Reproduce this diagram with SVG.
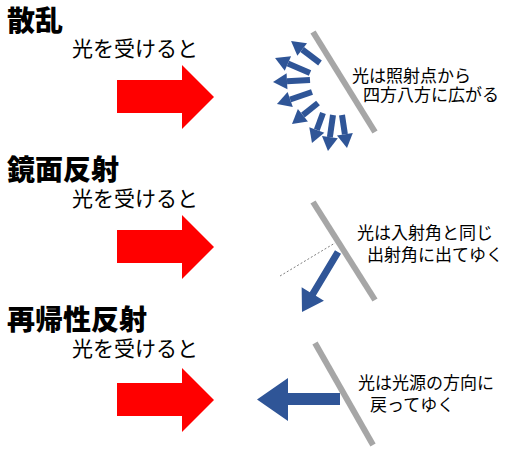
<svg xmlns="http://www.w3.org/2000/svg" width="506" height="451" viewBox="0 0 506 451">
<style>
.title{font-family:"Noto Sans CJK JP","Noto Sans CJK SC",sans-serif;font-weight:900;font-size:28px;fill:#000}
.sub{font-family:"Noto Sans CJK JP","Noto Sans CJK SC",sans-serif;font-size:21px;fill:#000}
.note{font-family:"Noto Sans CJK JP","Noto Sans CJK SC",sans-serif;font-size:17px;fill:#000}
.red{fill:#FF0000}
.mirror{stroke:#A6A6A6;stroke-width:6;fill:none}
.blue{fill:#2F5597}
.ray{stroke:#2F5597;stroke-width:6;fill:none}
</style>
<defs>
<path id="bigarrow" d="M117,80 L182,80 L182,65 L214,97 L182,129 L182,113 L117,113 Z"/>
<marker id="head" markerUnits="userSpaceOnUse" markerWidth="16" markerHeight="18" refX="0" refY="8" orient="auto" overflow="visible">
<path d="M0,0 L14,8 L0,16 Z" fill="#2F5597"/>
</marker>
</defs>

<g id="scatter">
<text class="title" x="7" y="31">散乱</text>
<text class="sub" x="72" y="56">光を受けると</text>
<use href="#bigarrow" class="red"/>
<line class="mirror" x1="313" y1="32" x2="375" y2="132"/>
<g id="scatter-rays">
<line class="ray" x1="320" y1="63" x2="302.2" y2="49.5" marker-end="url(#head)"/>
<line class="ray" x1="310" y1="73" x2="287.9" y2="63.5" marker-end="url(#head)"/>
<line class="ray" x1="310" y1="80" x2="287" y2="81.2" marker-end="url(#head)"/>
<line class="ray" x1="312" y1="92" x2="290.2" y2="99.5" marker-end="url(#head)"/>
<line class="ray" x1="318" y1="103" x2="302.9" y2="115.2" marker-end="url(#head)"/>
<line class="ray" x1="323" y1="113" x2="316.8" y2="129.9" marker-end="url(#head)"/>
<line class="ray" x1="333" y1="115" x2="329.9" y2="137.1" marker-end="url(#head)"/>
<line class="ray" x1="342" y1="115" x2="344.9" y2="134.2" marker-end="url(#head)"/>
</g>
<text class="note" x="352" y="82">光は照射点から</text>
<text class="note" x="363" y="101">四方八方に広がる</text>
</g>

<g id="specular">
<text class="title" x="7" y="180">鏡面反射</text>
<text class="sub" x="72" y="206">光を受けると</text>
<use href="#bigarrow" class="red" transform="translate(0,150)"/>
<line class="mirror" x1="313" y1="202" x2="375" y2="300"/>
<line x1="280" y1="276" x2="335" y2="243" stroke="#7F7F7F" stroke-width="1" stroke-dasharray="2,2"/>
<path class="blue" d="M0,-3.5 L49,-3.5 L49,-13 L70,0 L49,13 L49,3.5 L0,3.5 Z" transform="translate(338,252) rotate(120.96)"/>
<text class="note" x="357" y="239">光は入射角と同じ</text>
<text class="note" x="367" y="261">出射角に出てゆく</text>
</g>

<g id="retro">
<text class="title" x="7" y="330">再帰性反射</text>
<text class="sub" x="72" y="356">光を受けると</text>
<use href="#bigarrow" class="red" transform="translate(0,303)"/>
<line class="mirror" x1="315" y1="343" x2="373" y2="445"/>
<path class="blue" d="M340,393 L288,393 L288,378 L257,399.5 L288,421 L288,405 L340,405 Z"/>
<text class="note" x="358" y="389">光は光源の方向に</text>
<text class="note" x="370" y="411">戻ってゆく</text>
</g>
</svg>
